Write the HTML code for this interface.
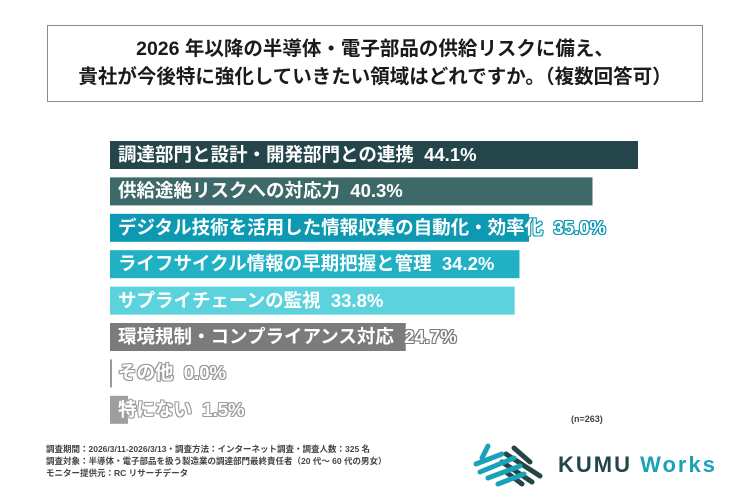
<!DOCTYPE html>
<html><head><meta charset="utf-8">
<style>
body{margin:0;background:#fff;}
#wrap{position:relative;width:750px;height:500px;overflow:hidden;background:#fff;font-family:"Liberation Sans","Noto Sans CJK JP",sans-serif;}
#title{position:absolute;left:47px;top:25px;width:656px;height:77px;border:1.5px solid #8a8a8a;text-align:center;font-weight:bold;font-size:19.5px;line-height:28px;color:#1a1a1a;padding-top:9px;box-sizing:border-box;}
.lbl{position:absolute;font-weight:bold;font-size:18.5px;color:#fff;white-space:pre;line-height:28px;}
#note{position:absolute;left:46px;top:443px;font-size:8.5px;line-height:12px;color:#444;font-weight:bold;}
#n{position:absolute;left:571px;top:414px;font-size:9px;color:#444;font-weight:bold;}
#brand{position:absolute;left:558px;top:452px;font-size:22px;font-weight:bold;letter-spacing:2px;}
</style></head><body>
<div id="wrap">
<div id="title">2026 年以降の半導体・電子部品の供給リスクに備え、<br>貴社が今後特に強化していきたい領域はどれですか。（複数回答可）</div>
<svg id="bars" width="750" height="500" style="position:absolute;left:0;top:0"></svg>
<div id="labels"></div>
<div id="n">(n=263)</div>
<div id="note">調査期間：2026/3/11-2026/3/13・調査方法：インターネット調査・調査人数：325 名<br>調査対象：半導体・電子部品を扱う製造業の調達部門最終責任者（20 代～ 60 代の男女）<br>モニター提供元：RC リサーチデータ</div>
<svg style="position:absolute;left:470px;top:440px" width="85" height="50">
<g stroke-linecap="round" stroke-width="5">
<line x1="44" y1="8" x2="60" y2="22" stroke="#24464a"/>
<line x1="36" y1="14" x2="70" y2="36" stroke="#24464a"/>
<line x1="32" y1="22" x2="62" y2="42" stroke="#24464a"/>
<line x1="36" y1="32" x2="52" y2="44" stroke="#24464a"/>
<line x1="18" y1="6" x2="12" y2="18" stroke="#1aa3b8"/>
<line x1="6" y1="24" x2="32" y2="14" stroke="#1aa3b8"/>
<line x1="10" y1="32" x2="44" y2="18" stroke="#1aa3b8"/>
<line x1="18" y1="38" x2="50" y2="26" stroke="#1aa3b8"/>
<line x1="28" y1="44" x2="54" y2="34" stroke="#1aa3b8"/>
</g></svg>
<div id="brand"><span style="color:#24464a">KUMU</span> <span style="color:#1aa3b8">Works</span></div>
</div>
<script>
const categories=["調達部門と設計・開発部門との連携","供給途絶リスクへの対応力","デジタル技術を活用した情報収集の自動化・効率化","ライフサイクル情報の早期把握と管理","サプライチェーンの監視","環境規制・コンプライアンス対応","その他","特にない"];
const values=[44.1,40.3,35.0,34.2,33.8,24.7,0.0,1.5];
const colors=["#24464a","#3d6968","#0e99b3","#21b1c5","#5cd3dc","#7b7b7b","#9a9a9a","#9e9e9e"];
const x0=110,scale=528/44.1,top0=141,step=36.4,bh=28;
const xs=v=>v*scale, ys=i=>top0+i*step;
const svg=document.getElementById('bars'),lab=document.getElementById('labels');
values.forEach((v,i)=>{
 const r=document.createElementNS('http://www.w3.org/2000/svg','rect');
 
 
 r.setAttribute('x',x0);r.setAttribute('y',ys(i));
 r.setAttribute('width',Math.max(xs(v),2));r.setAttribute('height',bh);
 r.setAttribute('fill',colors[i]);svg.appendChild(r);
 const d=document.createElement('div');
 
 
 d.className='lbl';d.style.left=(x0+8)+'px';d.style.top=ys(i)+'px';
 const c=colors[i];
 d.style.textShadow=`-1px -1px 0 ${c},1px -1px 0 ${c},-1px 1px 0 ${c},1px 1px 0 ${c},0 1px 0 ${c},0 -1px 0 ${c},1px 0 0 ${c},-1px 0 0 ${c}`;
 d.textContent=categories[i]+'  '+v.toFixed(1)+'%';
 lab.appendChild(d);
});
</script>
</body></html>
